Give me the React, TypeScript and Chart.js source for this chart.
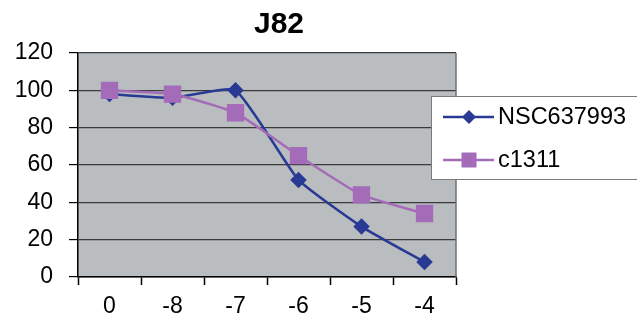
import React, { useEffect, useRef } from "react";
import { Chart, registerables } from "chart.js";

Chart.register(...registerables);

const chartTitle = "J82";
const categories = ["0", "-8", "-7", "-6", "-5", "-4"];
const nscLabel = "NSC637993";
const nscValues = [98, 96, 100, 52, 27, 8];
const c1311Label = "c1311";
const c1311Values = [100, 98, 88, 65, 44, 34];
const yTicks = [0, 20, 40, 60, 80, 100, 120];

const FONT = "'Liberation Sans', Arial, sans-serif";
const BLUE = "#283a94";
const PURPLE = "#a46cb8";
const PLOT_BG = "#b9bdbf";

const decorPlugin = {
  id: "decor",
  beforeDraw(chart: any) {
    const { ctx, chartArea } = chart;
    ctx.save();
    ctx.fillStyle = PLOT_BG;
    ctx.fillRect(chartArea.left, chartArea.top, chartArea.right - chartArea.left, chartArea.bottom - chartArea.top);
    ctx.restore();
  },
  afterDraw(chart: any) {
    const { ctx, chartArea } = chart;
    ctx.save();
    // plot right border
    ctx.strokeStyle = "#6e7072";
    ctx.lineWidth = 1.5;
    ctx.beginPath();
    ctx.moveTo(chartArea.right, chartArea.top);
    ctx.lineTo(chartArea.right, chartArea.bottom);
    ctx.stroke();
    // title
    ctx.fillStyle = "#000";
    ctx.font = `bold 30px ${FONT}`;
    ctx.textAlign = "center";
    ctx.textBaseline = "middle";
    ctx.fillText(chartTitle, 279, 25);
    // legend
    const bx = 431.5, by = 96.5, bw = 210, bh = 83;
    ctx.fillStyle = "#fff";
    ctx.fillRect(bx, by, bw, bh);
    ctx.strokeStyle = "#7a7a7a";
    ctx.lineWidth = 1;
    ctx.strokeRect(bx, by, bw, bh);
    const rows = [117, 160];
    chart.data.datasets.forEach((ds: any, i: number) => {
      const y = rows[i];
      ctx.strokeStyle = ds.borderColor;
      ctx.lineWidth = 2.5;
      ctx.beginPath();
      ctx.moveTo(443, y);
      ctx.lineTo(494, y);
      ctx.stroke();
      ctx.fillStyle = ds.pointBackgroundColor;
      ctx.beginPath();
      if (ds.pointStyle === "rectRot") {
        const r = 7;
        ctx.moveTo(469 - r, y);
        ctx.lineTo(469, y - r);
        ctx.lineTo(469 + r, y);
        ctx.lineTo(469, y + r);
        ctx.closePath();
      } else {
        ctx.rect(469 - 7.5, y - 7.5, 15, 15);
      }
      ctx.fill();
      ctx.fillStyle = "#000";
      ctx.font = `23.5px ${FONT}`;
      ctx.textAlign = "left";
      ctx.textBaseline = "middle";
      ctx.fillText(ds.label, 498, y + 1);
    });
    ctx.restore();
  },
};

export default function App() {
  const ref = useRef<HTMLCanvasElement>(null);
  useEffect(() => {
    if (!ref.current) return;
    const chart = new Chart(ref.current, {
      type: "line",
      data: {
        labels: categories,
        datasets: [
          {
            label: nscLabel,
            data: nscValues,
            borderColor: BLUE,
            backgroundColor: BLUE,
            pointBackgroundColor: BLUE,
            pointBorderColor: BLUE,
            pointStyle: "rectRot",
            pointRadius: 6.5,
            borderWidth: 2.5,
            tension: 0.15,
            order: 2,
          },
          {
            label: c1311Label,
            data: c1311Values,
            borderColor: PURPLE,
            backgroundColor: PURPLE,
            pointBackgroundColor: PURPLE,
            pointBorderColor: PURPLE,
            pointStyle: "rect",
            pointRadius: 10.5,
            borderWidth: 2.5,
            tension: 0.15,
            order: 1,
          },
        ],
      },
      options: {
        responsive: false,
        animation: false,
        layout: { padding: { top: 53, left: 0, right: 181, bottom: 0 } },
        plugins: { legend: { display: false }, title: { display: false }, tooltip: { enabled: false } },
        scales: {
          x: {
            offset: true,
            grid: {
              offset: true,
              drawOnChartArea: false,
              drawTicks: true,
              tickLength: 8,
              tickColor: "#000",
              tickWidth: 1.5,
            },
            border: { color: "#000", width: 1.5 },
            ticks: { color: "#000", font: { family: FONT, size: 23 }, padding: 8 },
            afterFit(scale: any) {
              scale.height = 47;
            },
          },
          y: {
            min: 0,
            max: 120,
            afterBuildTicks(scale: any) {
              scale.ticks = yTicks.map((v) => ({ value: v }));
            },
            grid: {
              color: "#3a3a3a",
              lineWidth: 1.2,
              tickLength: 9,
              tickColor: "#000",
            },
            border: { color: "#000", width: 1.5 },
            ticks: { color: "#000", font: { family: FONT, size: 23 }, padding: 16 },
            afterFit(scale: any) {
              scale.width = 78;
            },
          },
        },
      },
      plugins: [decorPlugin],
    });
    return () => chart.destroy();
  }, []);
  return (
    <div style={{ position: "absolute", left: 0, top: 0, width: 637, height: 324, background: "#fff" }}>
      <canvas ref={ref} width={637} height={324} />
    </div>
  );
}
